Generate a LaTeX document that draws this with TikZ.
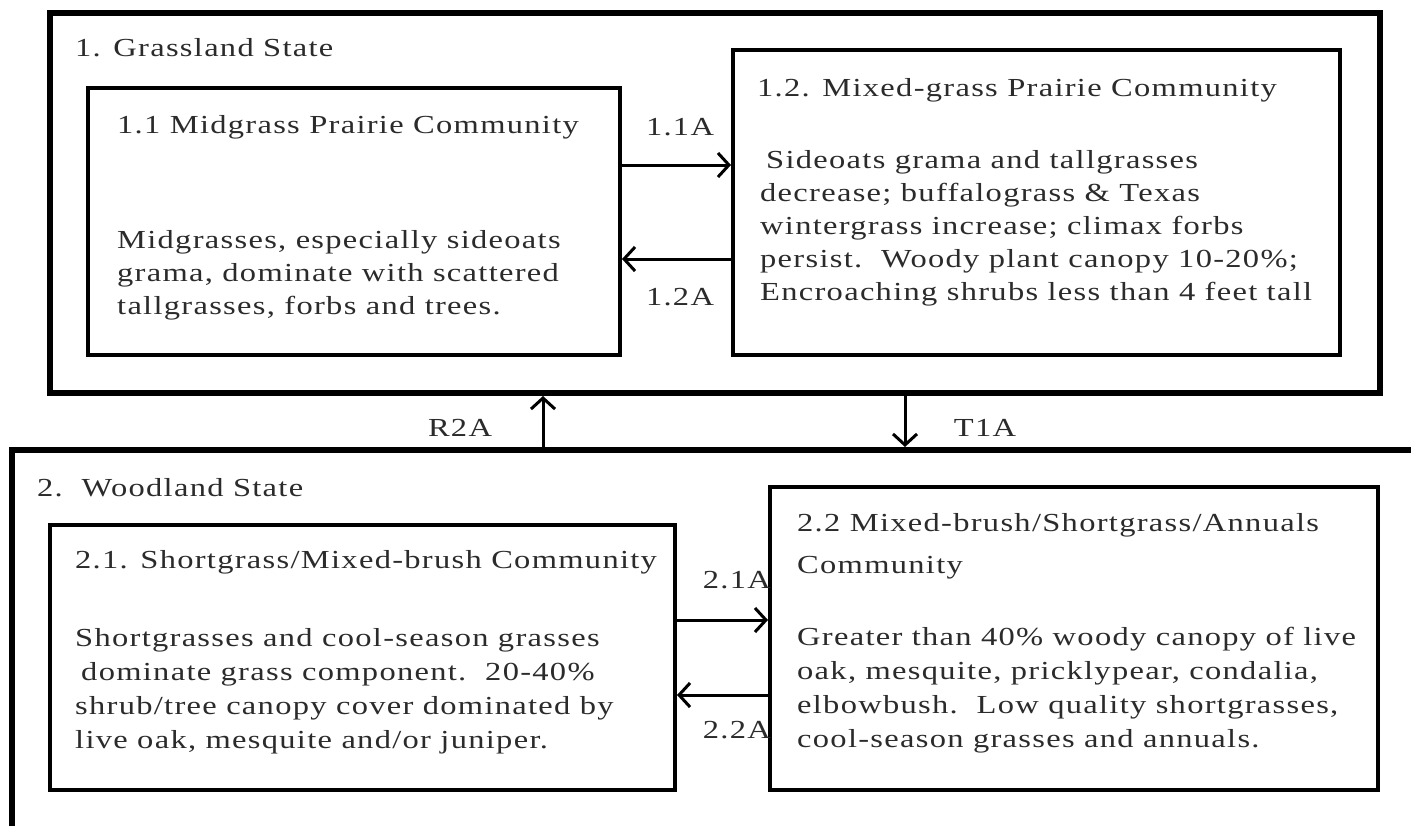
\documentclass[tikz,border=0pt]{standalone}
\usepackage{fontspec}
\setmainfont{Liberation Serif}[FakeStretch=1.25,LetterSpace=5]
\usetikzlibrary{arrows.meta}
\definecolor{txt}{HTML}{2B2B2B}
\begin{document}
\begin{tikzpicture}[x=1pt,y=-1pt,
  outerbox/.style={draw=black,line width=6pt,inner sep=0pt,fill=none},
  innerbox/.style={draw=black,line width=4pt,inner sep=0pt},
  body/.style={text=txt,align=left,anchor=north west,inner sep=0pt,font=\fontsize{26}{33}\selectfont},
  lbl/.style={text=txt,inner sep=0pt,font=\fontsize{26}{30}\selectfont},
  arr/.style={line width=3pt,-{Straight Barb[length=11pt,width=24pt,line width=3pt]}}]
\useasboundingbox (0,0) rectangle (1411,825);
\clip (0,0) rectangle (1411,825);
\fill[white] (0,0) rectangle (1411,825);
% state boxes
\node[outerbox,minimum width=1330pt,minimum height=380pt] (s1) at (715,203) {};
\node[outerbox,minimum width=1418pt,minimum height=400pt] (s2) at (721,650) {};
% community boxes
\node[innerbox,minimum width=532pt,minimum height=267pt] (c11) at (354,221.5) {};
\node[innerbox,minimum width=607pt,minimum height=305pt] (c12) at (1036.5,202.5) {};
\node[innerbox,minimum width=625pt,minimum height=265pt] (c21) at (362.5,657.5) {};
\node[innerbox,minimum width=608pt,minimum height=303pt] (c22) at (1074,638.5) {};
% texts
\node[body] (t1) at (75,38) {1. Grassland State};
\node[body] (t11) at (117,115) {1.1 Midgrass Prairie Community};
\node[body] (b11) at (117,230) {Midgrasses, especially sideoats\\grama, dominate with scattered\\tallgrasses, forbs and trees.};
\node[body] (t12) at (757,78) {1.2. Mixed-grass Prairie Community};
\node[body] (b12) at (760,150) {\hspace{6pt}Sideoats grama and tallgrasses\\decrease; buffalograss \& Texas\\wintergrass increase; climax forbs\\persist.\ \ Woody plant canopy 10-20\%;\\Encroaching shrubs less than 4 feet tall};
\node[body] (t2) at (37,478) {2.\ \ Woodland State};
\node[body] (t21) at (75,550) {2.1. Shortgrass/Mixed-brush Community};
\node[body,font=\fontsize{26}{34}\selectfont] (b21) at (75,628) {Shortgrasses and cool-season grasses\\\hspace{6pt}dominate grass component.\ \ 20-40\%\\shrub/tree canopy cover dominated by\\live oak, mesquite and/or juniper.};
\node[body] (t22) at (797,513) {2.2 Mixed-brush/Shortgrass/Annuals\\[9pt]Community};
\node[body,font=\fontsize{26}{34}\selectfont] (b22) at (797,627) {Greater than 40\% woody canopy of live\\oak, mesquite, pricklypear, condalia,\\elbowbush.\ \ Low quality shortgrasses,\\cool-season grasses and annuals.};
% helper coordinates
\coordinate (ya) at (0,165);
\coordinate (yb) at (0,259);
\coordinate (yc) at (0,620);
\coordinate (yd) at (0,695);
\coordinate (xr) at (543,0);
\coordinate (xt) at (905,0);
% connectors
\draw[arr] (c11.east |- ya) -- (c12.west |- ya);
\draw[arr] (c12.west |- yb) -- (c11.east |- yb);
\draw[arr] (c21.east |- yc) -- (c22.west |- yc);
\draw[arr] (c22.west |- yd) -- (c21.east |- yd);
\draw[arr] (xr |- s2.north) -- (xr |- s1.south);
\draw[arr] (xt |- s1.south) -- (xt |- s2.north);
% labels
\node[lbl] (l11) at (680,127) {1.1A};
\node[lbl] (l12) at (680,297) {1.2A};
\node[lbl,anchor=east] (l21) at (771,580) {2.1A};
\node[lbl,anchor=east] (l22) at (771,730) {2.2A};
\node[lbl] (lr) at (460,428) {R2A};
\node[lbl] (lt) at (985,428) {T1A};
\end{tikzpicture}
\end{document}
